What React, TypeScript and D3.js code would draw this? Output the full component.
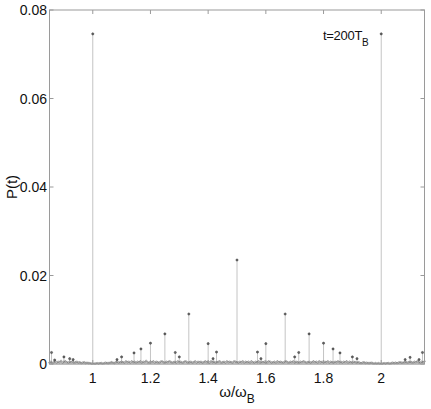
import React from "react";
import * as d3 from "d3";

// Main spectral lines (frequency in units of ω_B, power P)
const peakFreqs = [0.857, 0.868, 0.9, 0.92, 0.932, 1.0, 1.084, 1.1, 1.143, 1.167, 1.2, 1.25, 1.286, 1.3, 1.333, 1.4, 1.417, 1.429, 1.5, 1.571, 1.583, 1.6, 1.667, 1.7, 1.714, 1.75, 1.8, 1.833, 1.857, 1.9, 1.916, 2.0, 2.083, 2.1, 2.131, 2.143];
const peakVals = [0.0026, 0.0009, 0.0016, 0.0012, 0.001, 0.0746, 0.001, 0.0016, 0.0025, 0.0034, 0.0047, 0.0068, 0.0026, 0.0016, 0.0113, 0.0046, 0.0012, 0.0027, 0.0235, 0.0027, 0.0012, 0.0046, 0.0113, 0.0016, 0.0026, 0.0068, 0.0047, 0.0034, 0.0025, 0.0016, 0.0012, 0.0746, 0.001, 0.0015, 0.001, 0.0026];

// Background floor, grid from 0.85 step 0.005, values in 1e-4
const floorStart = 0.85;
const floorStep = 0.005;
const floorE4 = [
  3,5,2,4,6,3,5,4,7,3,5,6,4,3,5,4,6,3,4,5,3,4,2,3,4,2,3,2,2,1,
  1,
  1,1,2,1,2,2,1,2,3,2,2,3,4,3,2,4,5,3,4,
  5,4,3,6,4,5,3,6,4,5,3,5,4,6,3,5,4,7,4,3,5,4,6,3,5,4,3,5,6,4,3,5,4,6,5,3,4,5,3,6,4,5,3,4,6,5,3,4,5,3,
  4,6,3,5,4,5,3,4,6,4,5,3,6,4,5,3,4,5,6,3,4,5,3,6,4,5,4,3,6,5,4,3,5,4,6,3,5,4,5,3,6,4,3,5,4,6,3,5,4,5,
  3,4,6,5,3,4,5,3,6,4,5,4,3,5,6,4,3,5,4,6,3,5,4,3,5,4,6,5,3,4,5,3,4,6,4,5,3,6,4,5,3,5,4,6,3,5,4,3,5,4,
  6,4,5,3,5,4,6,3,5,4,3,5,4,3,4,3,2,3,4,2,3,2,2,3,2,1,2,1,2,1,
  1,
  1,2,1,2,2,1,2,3,2,3,2,3,4,3,3,4,5,3,4,5,4,3,5,4,6,4,3,5,4,6
];

const xTicks = [1, 1.2, 1.4, 1.6, 1.8, 2];
const yTicks = [0, 0.02, 0.04, 0.06, 0.08];

const W = 431, H = 409;
const L = 49.5, R = 424.5, T = 10, B = 364;

export default function App() {
  const x = d3.scaleLinear().domain([0.85, 2.15]).range([L, R]);
  const y = d3.scaleLinear().domain([0, 0.08]).range([B, T]);

  const floorPts = floorE4.map((v, i) => ({ f: floorStart + i * floorStep, p: v * 1e-4 }));
  const peaks = peakFreqs.map((f, i) => ({ f, p: peakVals[i] }));

  const axisColor = "#9a9a9a";
  const font = "'Liberation Sans', Arial, Helvetica, sans-serif";
  const yFmt = (v: number) => (v === 0 ? "0" : d3.format(".2f")(v));
  const xFmt = (v: number) => d3.format("~g")(v);

  return (
    <svg width={W} height={H} style={{ position: "absolute", left: 0, top: 0, background: "#fff" }} fontFamily={font}>
      {/* stems */}
      <g>
        {floorPts.map((d, i) => (
          <line key={"fs" + i} x1={x(d.f)} x2={x(d.f)} y1={y(0)} y2={y(d.p)} stroke="#d0d0d0" strokeWidth={0.8} />
        ))}
        {peaks.map((d, i) => (
          <line key={"ps" + i} x1={x(d.f)} x2={x(d.f)} y1={y(0)} y2={y(d.p)} stroke="#c4c4c4" strokeWidth={1} />
        ))}
      </g>
      <line x1={L} x2={R} y1={y(0)} y2={y(0)} stroke="#c8c8c8" strokeWidth={1} />
      <g>
        {floorPts.map((d, i) => (
          <circle key={"fm" + i} cx={x(d.f)} cy={y(d.p)} r={0.8} fill="none" stroke="#6a6a6a" strokeWidth={0.6} />
        ))}
        {peaks.map((d, i) => (
          <circle key={"pm" + i} cx={x(d.f)} cy={y(d.p)} r={1.1} fill="#666" stroke="#333" strokeWidth={0.5} />
        ))}
      </g>
      {/* frame */}
      <rect x={L} y={T} width={R - L} height={B - T} fill="none" stroke={axisColor} strokeWidth={1} />
      {xTicks.map((t) => (
        <g key={"xt" + t}>
          <line x1={x(t)} x2={x(t)} y1={T} y2={T + 4} stroke={axisColor} />
          <line x1={x(t)} x2={x(t)} y1={B} y2={B - 4} stroke={axisColor} />
          <text x={x(t)} y={383} textAnchor="middle" fontSize={14} fill="#111">{xFmt(t)}</text>
        </g>
      ))}
      {yTicks.map((t) => (
        <g key={"yt" + t}>
          <line x1={L} x2={L + 4} y1={y(t)} y2={y(t)} stroke={axisColor} />
          <line x1={R} x2={R - 4} y1={y(t)} y2={y(t)} stroke={axisColor} />
          <text x={47} y={y(t) + 5} textAnchor="end" fontSize={14} fill="#111">{yFmt(t)}</text>
        </g>
      ))}
      {/* axis labels */}
      <text x={237} y={397} textAnchor="middle" fontSize={15} fill="#111">
        ω/ω<tspan fontSize={12} dy={6}>B</tspan>
      </text>
      <text transform={`translate(17, ${(T + B) / 2}) rotate(-90)`} textAnchor="middle" fontSize={15} fill="#111">P(t)</text>
      {/* annotation */}
      <text x={323} y={40} fontSize={13} fill="#111" letterSpacing={-0.3}>
        t=200T<tspan fontSize={10} dy={6}>B</tspan>
      </text>
    </svg>
  );
}
